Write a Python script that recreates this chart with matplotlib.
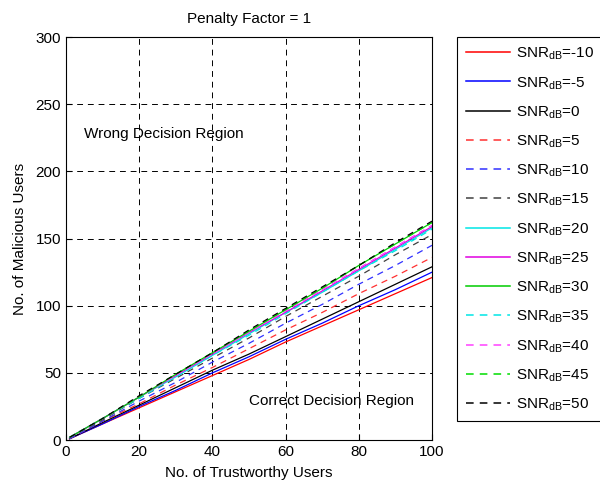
import matplotlib
matplotlib.use("Agg")
import matplotlib.pyplot as plt

plt.rcParams['font.family'] = ['Liberation Sans', 'DejaVu Sans']
plt.rcParams['mathtext.fontset'] = 'custom'
plt.rcParams['mathtext.rm'] = 'Liberation Sans'

trust_users = [1, 10, 20, 30, 40, 50, 60, 70, 80, 90, 100]
snr_db = [-10, -5, 0, 5, 10, 15, 20, 25, 30, 35, 40, 45, 50]
malicious = {
    -10: [1, 12, 24, 36, 48, 60, 73, 85, 97, 109, 121],
    -5:  [1, 12, 25, 37, 50, 62, 75, 87, 100, 112, 125],
    0:   [1, 13, 26, 39, 52, 64, 77, 90, 103, 116, 129],
    5:   [1, 14, 27, 41, 54, 68, 82, 95, 109, 122, 136],
    10:  [1, 14, 29, 43, 58, 72, 87, 101, 116, 130, 145],
    15:  [2, 15, 31, 46, 61, 76, 92, 107, 122, 138, 153],
    20:  [2, 16, 32, 47, 63, 79, 95, 110, 126, 142, 158],
    25:  [2, 16, 32, 48, 64, 80, 95, 111, 127, 143, 159],
    30:  [2, 16, 32, 49, 65, 81, 97, 113, 130, 146, 162],
    35:  [2, 16, 31, 47, 63, 78, 94, 110, 126, 141, 157],
    40:  [2, 16, 32, 48, 64, 80, 96, 112, 128, 144, 160],
    45:  [2, 16, 32, 49, 65, 81, 97, 113, 130, 146, 162],
    50:  [2, 16, 33, 49, 65, 82, 98, 114, 130, 147, 163],
}
colors = ['#ff0000', '#0000ff', '#000000', '#ff3030', '#3030ff', '#404040',
          '#00e5e5', '#e000e0', '#00cc00', '#00e5e5', '#ff40ff', '#00dd00', '#000000']
styles = ['-', '-', '-', '--', '--', '--', '-', '-', '-', '--', '--', '--', '--']

fig = plt.figure(figsize=(6.0, 4.83), dpi=100)
ax = fig.add_axes([0.11, 0.089, 0.61, 0.834])

for s, c, ls in zip(snr_db, colors, styles):
    kw = dict(dashes=(5, 4)) if ls == '--' else {}
    ax.plot(trust_users, malicious[s], color=c, linestyle=ls, linewidth=0.9,
            label=r'SNR$_{\mathrm{dB}}$=%d' % s, **kw)

ax.set_xlim(0, 100)
ax.set_ylim(0, 300)
ax.set_xticks([0, 20, 40, 60, 80, 100])
ax.set_yticks([0, 50, 100, 150, 200, 250, 300])
ax.grid(True, color='black', linestyle=(0, (6, 5)), linewidth=0.7)
ax.tick_params(direction='in', labelsize=11, length=4)
for sp in ax.spines.values():
    sp.set_linewidth(0.8)

ax.set_xlabel('No. of Trustworthy Users', fontsize=11, labelpad=5)
ax.set_ylabel('No. of Malicious Users', fontsize=11, labelpad=6)
ax.set_title('Penalty Factor = 1', fontsize=11, pad=10)

ax.text(5, 228, 'Wrong Decision Region', fontsize=11, va='center', ha='left')
ax.text(50, 29, 'Correct Decision Region', fontsize=11, va='center', ha='left')

leg = fig.legend(loc='upper left', bbox_to_anchor=(0.762, 0.923), fontsize=11,
                 handlelength=2.9, labelspacing=0.82, borderpad=0.55,
                 borderaxespad=0, handletextpad=0.4, fancybox=False, framealpha=1,
                 edgecolor='black')
leg.get_frame().set_linewidth(0.8)
for ln in leg.get_lines():
    ln.set_linewidth(1.1)

fig.savefig('out.png', dpi=100)
